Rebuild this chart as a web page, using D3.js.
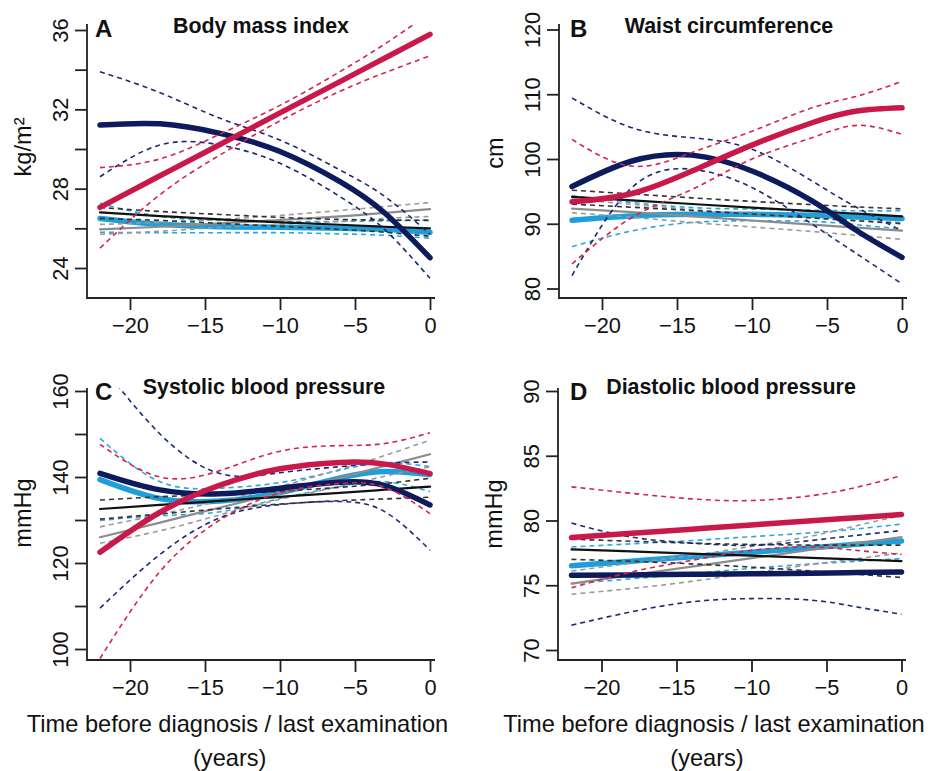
<!DOCTYPE html>
<html><head><meta charset="utf-8">
<script src="https://cdn.jsdelivr.net/npm/d3@7"></script>
<style>
body{margin:0;background:#fff;}
svg{display:block;font-family:"Liberation Sans",Arial,Helvetica,sans-serif;}
</style>
</head><body>
<svg id="chart" width="933" height="771"></svg>
<script>
// ---------- data ----------
const years = [-22, -18, -14, -10, -6, -3, 0];
const xTicks = [-20, -15, -10, -5, 0];
// series order: light blue, gray, black, navy, crimson
const groupNames = ["lightblue", "gray", "black", "navy", "crimson"];

const bmiFit = [
  [26.50, 26.20, 26.08, 26.05, 26.00, 25.95, 25.80],
  [25.95, 26.08, 26.25, 26.42, 26.60, 26.78, 26.97],
  [26.80, 26.62, 26.45, 26.30, 26.18, 26.08, 26.00],
  [31.21, 31.27, 30.79, 29.87, 28.35, 26.76, 24.52],
  [27.06, 28.65, 30.23, 31.82, 33.40, 34.59, 35.78]
];
const bmiLo = [
  [25.80, 25.78, 25.78, 25.78, 25.72, 25.65, 25.50],
  [25.70, 25.85, 26.05, 26.20, 26.35, 26.50, 26.60],
  [26.50, 26.40, 26.25, 26.10, 25.95, 25.80, 25.60],
  [28.60, 30.20, 30.20, 29.28, 27.60, 25.92, 23.48],
  [25.00, 27.70, 29.70, 31.42, 32.91, 33.85, 34.70]
];
const bmiHi = [
  [27.26, 26.60, 26.40, 26.35, 26.35, 26.38, 26.42],
  [26.20, 26.30, 26.45, 26.65, 26.90, 27.10, 27.30],
  [27.05, 26.85, 26.70, 26.55, 26.45, 26.42, 26.40],
  [33.90, 32.84, 31.55, 30.45, 28.94, 27.60, 25.70],
  [29.06, 29.50, 30.75, 32.20, 33.90, 35.30, 36.85]
];

const waistFit = [
  [90.55, 91.20, 91.45, 91.45, 91.30, 91.05, 90.80],
  [92.35, 91.80, 91.15, 90.50, 89.85, 89.40, 88.95],
  [94.15, 93.60, 93.05, 92.50, 91.95, 91.55, 91.15],
  [95.74, 99.69, 100.60, 98.15, 93.54, 88.92, 84.82],
  [93.38, 94.67, 98.15, 102.15, 105.60, 107.40, 107.90]
];
const waistLo = [
  [86.46, 88.90, 90.20, 90.46, 90.36, 89.85, 89.18],
  [91.70, 91.00, 90.20, 89.50, 88.80, 88.20, 87.60],
  [93.03, 92.55, 92.05, 91.50, 90.90, 90.45, 90.00],
  [82.00, 95.59, 98.41, 95.59, 89.95, 85.33, 80.72],
  [83.80, 90.97, 95.30, 100.00, 103.28, 105.20, 103.80]
];
const waistHi = [
  [94.30, 93.28, 92.50, 92.26, 92.10, 92.00, 92.00],
  [93.80, 93.00, 92.20, 91.50, 90.90, 90.50, 90.20],
  [95.18, 94.60, 94.00, 93.45, 92.95, 92.60, 92.30],
  [109.43, 104.82, 103.28, 101.49, 96.60, 92.50, 88.92],
  [103.03, 98.90, 101.00, 104.30, 107.90, 109.70, 112.00]
];

const sbpFit = [
  [139.4, 135.0, 134.4, 136.4, 139.8, 141.3, 140.6],
  [126.0, 129.4, 132.9, 136.3, 139.8, 142.6, 145.3],
  [132.56, 133.5, 134.45, 135.4, 136.3, 137.05, 137.75],
  [140.85, 137.0, 136.1, 137.4, 138.8, 138.0, 133.5],
  [122.5, 131.8, 138.1, 141.9, 143.4, 143.0, 140.8]
];
const sbpLo = [
  [129.9, 131.0, 131.9, 135.0, 137.8, 138.9, 136.6],
  [124.6, 127.5, 131.2, 134.8, 137.8, 140.2, 142.4],
  [130.2, 131.4, 132.6, 133.7, 134.5, 134.9, 135.3],
  [109.5, 122.0, 130.5, 133.6, 134.3, 131.9, 123.0],
  [97.8, 118.0, 130.0, 136.3, 138.5, 137.6, 131.5]
];
const sbpHi = [
  [149.0, 138.9, 137.4, 138.7, 141.6, 143.3, 142.4],
  [128.4, 131.3, 134.4, 137.8, 141.8, 145.0, 148.6],
  [134.65, 135.4, 136.0, 136.7, 137.6, 138.5, 139.7],
  [166.5, 150.0, 140.8, 141.0, 142.4, 143.2, 143.5],
  [147.6, 140.0, 141.5, 146.0, 147.3, 147.8, 150.3]
];

const dbpFit = [
  [76.51, 76.86, 77.20, 77.55, 77.90, 78.16, 78.41],
  [75.13, 75.78, 76.44, 77.09, 77.74, 78.23, 78.72],
  [77.77, 77.61, 77.44, 77.28, 77.12, 76.99, 76.87],
  [75.77, 75.80, 75.84, 75.88, 75.93, 75.98, 76.03],
  [78.69, 79.01, 79.33, 79.66, 79.98, 80.22, 80.46]
];
const dbpLo = [
  [75.13, 75.50, 75.90, 76.30, 76.65, 76.85, 77.05],
  [74.31, 74.75, 75.30, 75.95, 76.60, 77.05, 77.49],
  [77.00, 76.85, 76.65, 76.40, 76.10, 75.85, 75.60],
  [71.92, 72.95, 73.72, 73.97, 73.85, 73.33, 72.77],
  [74.80, 76.03, 76.92, 77.69, 77.95, 77.69, 77.38]
];
const dbpHi = [
  [77.95, 78.20, 78.45, 78.75, 79.05, 79.35, 79.72],
  [76.10, 76.70, 77.30, 78.00, 78.80, 79.60, 80.38],
  [78.55, 78.40, 78.25, 78.15, 78.10, 78.10, 78.10],
  [79.80, 78.72, 78.26, 78.08, 78.46, 78.85, 79.23],
  [82.60, 82.10, 81.67, 81.54, 81.92, 82.56, 83.46]
];

const bmiTicks = [24, 26, 28, 30, 32, 34, 36];
const bmiTickLabels = [24, 28, 32, 36];
const waistTicks = [80, 90, 100, 110, 120];
const waistTickLabels = [80, 90, 100, 110, 120];
const sbpTicks = [100, 110, 120, 130, 140, 150, 160];
const sbpTickLabels = [100, 120, 140, 160];
const dbpTicks = [70, 75, 80, 85, 90];
const dbpTickLabels = [70, 75, 80, 85, 90];

const panelLetters = ["A", "B", "C", "D"];
const panelTitles = ["Body mass index", "Waist circumference", "Systolic blood pressure", "Diastolic blood pressure"];
const panelUnits = ["kg/m²", "cm", "mmHg", "mmHg"];
const xTitleLine1 = "Time before diagnosis / last examination";
const xTitleLine2 = "(years)";

// ---------- styles ----------
const solidColors = ["#1E9FDA", "#8C8C8C", "#111111", "#0D1A5C", "#C9184A"];
const dashColors  = ["#2AA6E0", "#9A9A9A", "#333333", "#1B2A72", "#D2254F"];
const solidWidths = [5.5, 2.2, 2.2, 5.5, 5.5];

const svg = d3.select("#chart");

const layouts = [
  {x0: 87,  x1: 435, y0: 24,  y1: 298, xr: [100, 430],   dom: [24, 36],   yr: [268, 30],     labX: 31,  labY: 147,  titleX: 261, titleY: 33, letX: 95,  letY: 37},
  {x0: 559, x1: 907, y0: 24,  y1: 298, xr: [572, 902],   dom: [80, 120],  yr: [288.5, 29.5], labX: 503, labY: 153,  titleX: 729, titleY: 33, letX: 570, letY: 37},
  {x0: 87,  x1: 435, y0: 388, y1: 660, xr: [100, 430],   dom: [100, 160], yr: [649, 391],    labX: 31,  labY: 513,  titleX: 264, titleY: 394, letX: 95,  letY: 400},
  {x0: 558, x1: 906, y0: 388, y1: 660, xr: [571.5, 901.5], dom: [70, 90], yr: [650, 391],    labX: 502, labY: 514,  titleX: 731, titleY: 394, letX: 570, letY: 400}
];

const panelData = [
  {fit: bmiFit, lo: bmiLo, hi: bmiHi, ticks: bmiTicks, labels: bmiTickLabels},
  {fit: waistFit, lo: waistLo, hi: waistHi, ticks: waistTicks, labels: waistTickLabels},
  {fit: sbpFit, lo: sbpLo, hi: sbpHi, ticks: sbpTicks, labels: sbpTickLabels},
  {fit: dbpFit, lo: dbpLo, hi: dbpHi, ticks: dbpTicks, labels: dbpTickLabels}
];

const defs = svg.append("defs");
const axisColor = "#222";

panelData.forEach((p, pi) => {
  const L = layouts[pi];
  const x = d3.scaleLinear().domain([-22, 0]).range(L.xr);
  const y = d3.scaleLinear().domain(L.dom).range(L.yr);
  const g = svg.append("g");

  const clipId = "clip" + pi;
  defs.append("clipPath").attr("id", clipId)
    .append("rect").attr("x", L.x0).attr("y", L.y0)
    .attr("width", L.x1 - L.x0).attr("height", L.y1 - L.y0);

  const lines = g.append("g").attr("clip-path", `url(#${clipId})`);
  const line = d3.line().x((d, i) => x(years[i])).y(d => y(d)).curve(d3.curveNatural);

  groupNames.forEach((name, gi) => {
    [p.lo[gi], p.hi[gi]].forEach(arr => {
      lines.append("path").attr("d", line(arr))
        .attr("fill", "none").attr("stroke", dashColors[gi])
        .attr("stroke-width", 1.6).attr("stroke-dasharray", "5,4");
    });
    lines.append("path").attr("d", line(p.fit[gi]))
      .attr("fill", "none").attr("stroke", solidColors[gi])
      .attr("stroke-width", solidWidths[gi])
      .attr("stroke-linecap", "round").attr("stroke-linejoin", "round");
  });

  // L-shaped frame
  g.append("path")
    .attr("d", `M${L.x0},${L.y0}V${L.y1}H${L.x1}`)
    .attr("fill", "none").attr("stroke", axisColor).attr("stroke-width", 1.8);

  // x axis
  const xa = g.append("g").attr("transform", `translate(0,${L.y1})`)
    .call(d3.axisBottom(x).tickValues(xTicks).tickSize(12)
      .tickFormat(d => d === 0 ? "0" : "\u2212" + Math.abs(d)));
  xa.select(".domain").remove();
  xa.attr("font-family", null).attr("font-size", null);
  xa.selectAll("line").attr("stroke", axisColor).attr("stroke-width", 1.8);
  xa.selectAll("text").attr("y", 35).attr("dy", null)
    .attr("fill", "#111").style("font-size", "21.8px");

  // y axis
  const ya = g.append("g").attr("transform", `translate(${L.x0},0)`)
    .call(d3.axisLeft(y).tickValues(p.ticks).tickSize(12)
      .tickFormat(d => p.labels.includes(d) ? String(d) : ""));
  ya.select(".domain").remove();
  ya.attr("font-family", null).attr("font-size", null);
  ya.selectAll("line").attr("stroke", axisColor).attr("stroke-width", 1.8);
  ya.selectAll("text")
    .attr("x", 0).attr("y", 0).attr("dy", null)
    .attr("text-anchor", "middle")
    .attr("transform", "translate(-19,0) rotate(-90)")
    .attr("fill", "#111").style("font-size", "21.8px");

  // y label
  g.append("text")
    .attr("transform", `translate(${L.labX},${L.labY}) rotate(-90)`)
    .attr("text-anchor", "middle").attr("fill", "#111")
    .style("font-size", "23.6px").text(panelUnits[pi]);

  // panel letter & title
  g.append("text").attr("x", L.letX).attr("y", L.letY)
    .attr("font-weight", "bold").style("font-size", "24px").attr("fill", "#111")
    .text(panelLetters[pi]);
  g.append("text").attr("x", L.titleX).attr("y", L.titleY)
    .attr("text-anchor", "middle")
    .attr("font-weight", "bold").style("font-size", "21.4px").attr("fill", "#111")
    .text(panelTitles[pi]);
});

// x-axis titles under bottom panels
[[237.5, 229.7], [714, 707]].forEach(([c1, c2]) => {
  svg.append("text").attr("x", c1).attr("y", 731.5).attr("text-anchor", "middle")
    .attr("fill", "#111").style("font-size", "23.6px").text(xTitleLine1);
  svg.append("text").attr("x", c2).attr("y", 766).attr("text-anchor", "middle")
    .attr("fill", "#111").style("font-size", "23.6px").text(xTitleLine2);
});
</script>
</body></html>
